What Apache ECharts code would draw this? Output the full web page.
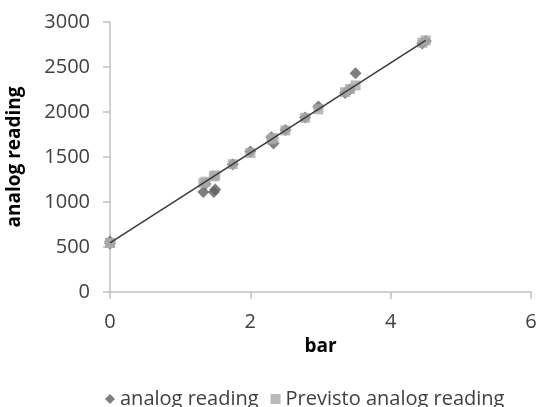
<!DOCTYPE html>
<html>
<head>
<meta charset="utf-8">
<script src="https://cdn.jsdelivr.net/npm/echarts@6/dist/echarts.min.js"></script>
<style>
html,body{margin:0;padding:0;background:#fff}
#chart{width:536px;height:407px}
</style>
</head>
<body>
<div id="chart"></div>
<script>
// valori
const barVals = [0, 0, 1.33, 1.36, 1.48, 1.5, 1.75, 2.0, 2.3, 2.33, 2.5, 2.78, 2.97, 3.35, 3.42, 3.5, 4.45, 4.5]
const analogVals = [560, 540, 1110, 1200, 1110, 1140, 1420, 1560, 1720, 1650, 1800, 1940, 2060, 2210, 2250, 2430, 2760, 2790]
const previstoVals = [545, 545, 1210, 1225, 1285, 1295, 1420, 1545, 1695, 1710, 1795, 1935, 2030, 2220, 2255, 2295, 2770, 2795]
const trendX = [0, 4.5]
const trendY = [545, 2795]
const xTicks = [0, 2, 4, 6]
const yTicks = [0, 500, 1000, 1500, 2000, 2500, 3000]

const font = "Open Sans"
const txt = "#404040"
const axisCol = "#c0c0c0"

const pairs = (xs, ys) => xs.map((x, i) => [x, ys[i]])

const chart = echarts.init(document.getElementById("chart"))
chart.setOption({
	animation: false,
	grid: {left: 110, right: 5, top: 22, bottom: 115, containLabel: false, outerBoundsMode: "none"},
	xAxis: {
		type: "value",
		min: xTicks[0],
		max: xTicks[xTicks.length - 1],
		interval: 2,
		name: "bar",
		nameLocation: "middle",
		nameGap: 45,
		nameTextStyle: {fontFamily: font, fontSize: 19, fontWeight: "bold", color: "#000"},
		axisLine: {lineStyle: {color: axisCol, width: 1.5}},
		axisTick: {show: true, length: 7, lineStyle: {color: axisCol, width: 1.5}},
		axisLabel: {fontFamily: font, fontSize: 20, color: txt, margin: 20, formatter: v => String(v)},
		splitLine: {show: false}
	},
	yAxis: {
		type: "value",
		min: yTicks[0],
		max: yTicks[yTicks.length - 1],
		interval: 500,
		name: "analog reading",
		nameLocation: "middle",
		nameGap: 86,
		nameTextStyle: {fontFamily: font, fontSize: 19, fontWeight: "bold", color: "#000"},
		axisLine: {show: true, lineStyle: {color: axisCol, width: 1.5}},
		axisTick: {show: true, length: 7, lineStyle: {color: axisCol, width: 1.5}},
		axisLabel: {fontFamily: font, fontSize: 20, color: txt, margin: 20, formatter: v => String(v)},
		splitLine: {show: false}
	},
	legend: {
		top: 384,
		left: 100,
		itemWidth: 10,
		itemHeight: 10,
		itemGap: 12,
		textStyle: {fontFamily: font, fontSize: 20, color: txt},
		data: [
			{name: "analog reading", icon: "diamond"},
			{name: "Previsto analog reading", icon: "rect"}
		]
	},
	series: [
		{
			name: "analog reading",
			type: "scatter",
			symbol: "diamond",
			symbolSize: 12,
			itemStyle: {color: "#5f5f5f"},
			z: 2,
			data: pairs(barVals, analogVals)
		},
		{
			name: "Previsto analog reading",
			type: "scatter",
			symbol: "rect",
			symbolSize: 10,
			itemStyle: {color: "#a9a9a9"},
			z: 3,
			data: pairs(barVals, previstoVals)
		},
		{
			name: "trend",
			type: "line",
			symbol: "none",
			lineStyle: {color: "#3a3a3a", width: 1.5},
			z: 4,
			data: pairs(trendX, trendY)
		}
	]
})
</script>
</body>
</html>
